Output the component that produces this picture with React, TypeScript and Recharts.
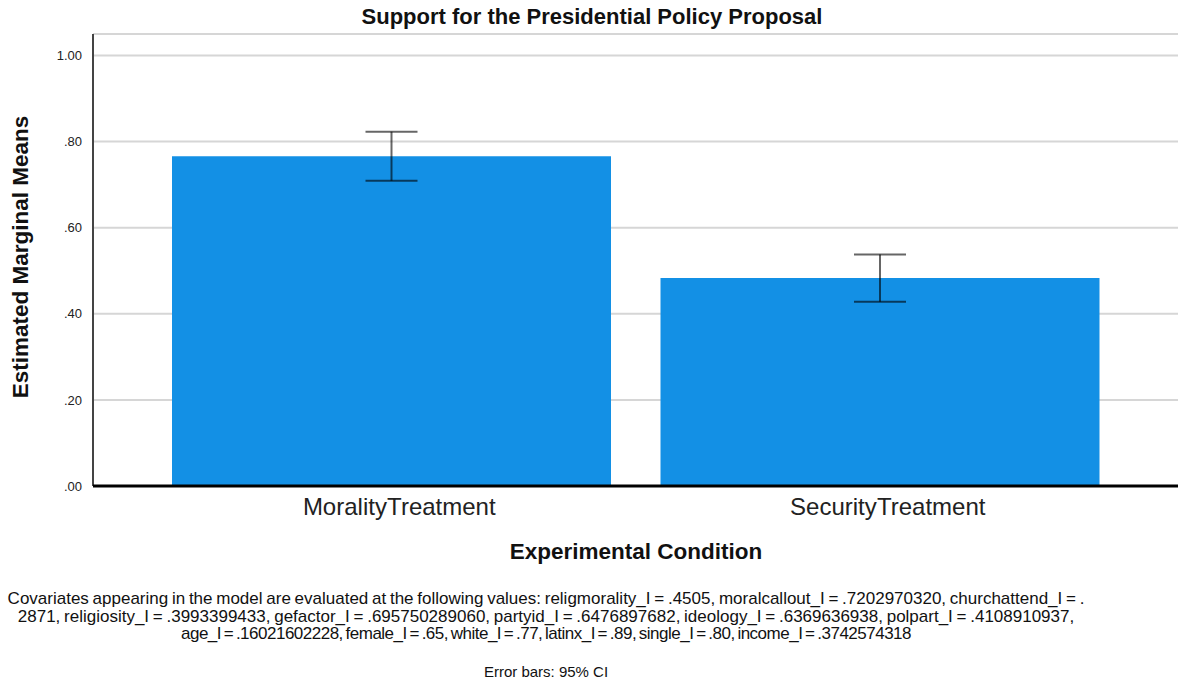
import { BarChart, Bar, XAxis, YAxis, CartesianGrid, ErrorBar } from "recharts";

const conditions = ["Morality Treatment", "Security Treatment"];
const means = [0.766, 0.483];
const ciHalfWidths = [0.057, 0.055];
const yTicks = [0, 0.2, 0.4, 0.6, 0.8, 1.0];

const noteLines = [
  "Covariates appearing in the model are evaluated at the following values: religmorality_I = .4505, moralcallout_I = .7202970320, churchattend_I = .",
  "2871, religiosity_I = .3993399433, gefactor_I = .695750289060, partyid_I = .6476897682, ideology_I = .6369636938, polpart_I = .4108910937,",
  "age_I = .16021602228, female_I = .65, white_I = .77, latinx_I = .89, single_I = .80, income_I = .3742574318",
];

const data = conditions.map((name, i) => ({
  name,
  mean: means[i],
  ci: ciHalfWidths[i],
}));

const FONT = "'Liberation Sans', Arial, sans-serif";

const fmtTick = (v: number) => {
  const s = v.toFixed(2);
  return s.startsWith("0") ? s.slice(1) : s;
};

function CategoryTick({ x, y, payload }: any) {
  return (
    <text x={x + 8} y={y + 27} textAnchor="middle" fontSize={24} fill="#222" fontFamily={FONT} wordSpacing={-6}>
      {payload.value}
    </text>
  );
}

export default function App() {
  return (
    <div style={{ position: "absolute", left: 0, top: 0, width: 1184, height: 685, background: "#fff", fontFamily: FONT }}>
      <div
        style={{
          position: "absolute",
          top: 6,
          left: 0,
          width: 1184,
          textAlign: "center",
          fontSize: 22,
          lineHeight: "22px",
          fontWeight: "bold",
          color: "#111",
        }}
      >
        Support for the Presidential Policy Proposal
      </div>

      <BarChart width={1184} height={580} data={data} margin={{ top: 34, right: 6, left: 0, bottom: 0 }}>
        <CartesianGrid vertical={false} stroke="#d6d6d6" strokeWidth={2} />
        <YAxis
          width={93}
          domain={[0, 1.05]}
          ticks={yTicks}
          tickFormatter={fmtTick}
          tickLine={false}
          axisLine={{ stroke: "#444", strokeWidth: 2 }}
          tickMargin={5}
          tick={{ fontSize: 13, fill: "#222", fontFamily: FONT }}
          label={() => (
            <text
              x={28}
              y={257}
              transform="rotate(-90, 28, 257)"
              textAnchor="middle"
              fontSize={22.5}
              fontWeight="bold"
              fill="#111"
              fontFamily={FONT}
            >
              Estimated Marginal Means
            </text>
          )}
        />
        <XAxis
          dataKey="name"
          height={94}
          padding={{ left: 54, right: 54 }}
          tickLine={false}
          tickSize={0}
          axisLine={{ stroke: "#000", strokeWidth: 3 }}
          tick={<CategoryTick />}
          label={() => (
            <text x={636} y={559} textAnchor="middle" fontSize={22.5} fontWeight="bold" fill="#111" fontFamily={FONT}>
              Experimental Condition
            </text>
          )}
        />
        <Bar dataKey="mean" fill="#1390e5" barSize={439} isAnimationActive={false}>
          <ErrorBar dataKey="ci" width={26} stroke="#000" strokeOpacity={0.6} strokeWidth={2} isAnimationActive={false} />
        </Bar>
      </BarChart>

      {/* covariate note, SPSS-style tight spacing */}
      <div
        style={{
          position: "absolute",
          top: 590,
          left: 0,
          width: 1092,
          textAlign: "center",
          fontSize: 17,
          lineHeight: "17.5px",
          color: "#111",
          whiteSpace: "nowrap",
        }}
      >
        {noteLines.map((l, i) => (
          <div key={l} style={{ wordSpacing: i === 2 ? -1.5 : -1, letterSpacing: i === 2 ? -0.5 : 0 }}>
            {l}
          </div>
        ))}
      </div>
      <div
        style={{
          position: "absolute",
          top: 663,
          left: 0,
          width: 1092,
          textAlign: "center",
          fontSize: 15,
          lineHeight: "17.5px",
          color: "#111",
        }}
      >
        Error bars: 95% CI
      </div>
    </div>
  );
}
